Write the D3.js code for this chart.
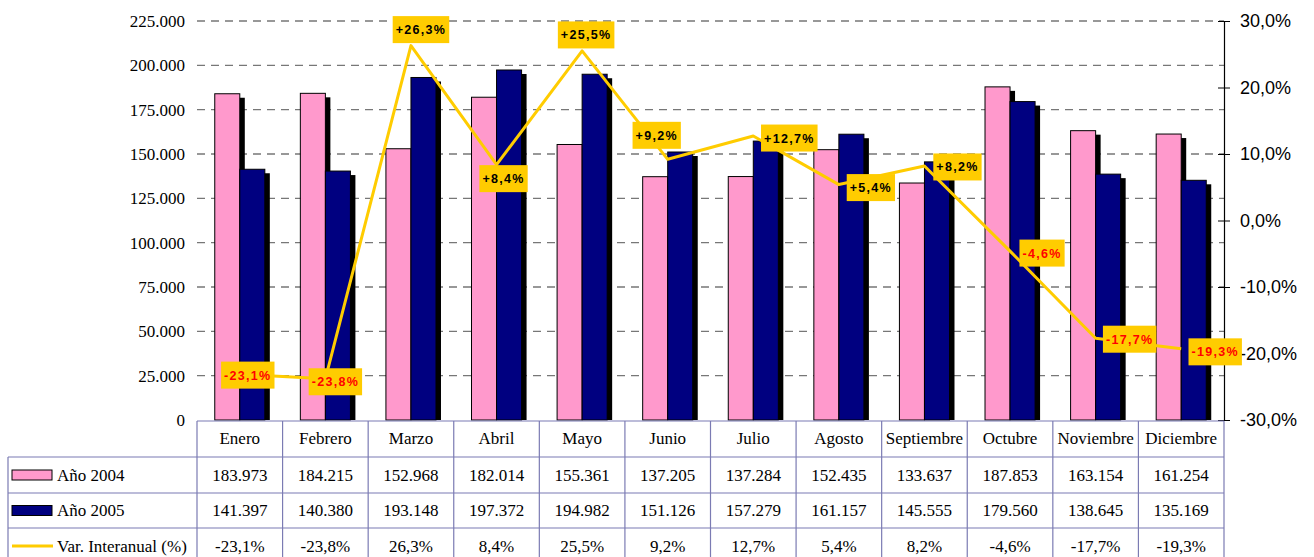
<!DOCTYPE html>
<html>
<head>
<meta charset="utf-8">
<script src="https://cdn.jsdelivr.net/npm/d3@7"></script>
<style>
  body { margin: 0; background: #fff; }
  svg { display: block; }
  .serif { font-family: "Liberation Serif", "Times New Roman", Times, serif; }
  .sans { font-family: "Liberation Sans", Arial, Helvetica, sans-serif; }
</style>
</head>
<body>
<div id="chart"></div>
<script>
// data
var months = ["Enero", "Febrero", "Marzo", "Abril", "Mayo", "Junio", "Julio", "Agosto", "Septiembre", "Octubre", "Noviembre", "Diciembre"];
var year2004 = [183973, 184215, 152968, 182014, 155361, 137205, 137284, 152435, 133637, 187853, 163154, 161254];
var year2005 = [141397, 140380, 193148, 197372, 194982, 151126, 157279, 161157, 145555, 179560, 138645, 135169];
var variation = [-23.1, -23.8, 26.3, 8.4, 25.5, 9.2, 12.7, 5.4, 8.2, -4.6, -17.7, -19.3];
var seriesNames = ["Año 2004", "Año 2005", "Var. Interanual (%)"];
var leftTicks = [0, 25000, 50000, 75000, 100000, 125000, 150000, 175000, 200000, 225000];
var rightTicks = [-30, -20, -10, 0, 10, 20, 30];

// label nudges (layout only, dx/dy of box centre from the point)
var labelNudge = [[8, 1], [10, 3], [10, -16], [7, 14], [4, -16], [-11, -24], [36, 2], [32, 3], [33, 1], [32, 2], [34, 1], [34, 3]];

var width = 1314, height = 557;
var plotL = 197, plotR = 1224, plotT = 21, plotB = 420;
var rowY = [421, 457, 493, 528, 564];
var tableL = 8;

var pink = "#FF99CC", navy = "#000080", yellow = "#FFCC00", border = "#7B7BB3";

var es = d3.formatLocale({decimal: ",", thousands: ".", grouping: [3], currency: ["", " €"], minus: "-"});
var fmtNum = es.format(",d");
var fmtPct = es.format(".1f");

var svg = d3.select("#chart").append("svg")
    .attr("width", width)
    .attr("height", height);

var x = d3.scaleBand().domain(months).range([plotL, plotR]).paddingInner(0.415).paddingOuter(0.2075);
var xs = d3.scaleBand().domain([0, 1]).range([0, x.bandwidth()]);
var y = d3.scaleLinear().domain([0, 225000]).range([plotB, plotT]);
var y2 = d3.scaleLinear().domain([-30, 30]).range([plotB, plotT]);
var step = x.step();

// gridlines
svg.append("g")
  .selectAll("line")
  .data(leftTicks.filter(function(d){ return d > 0; }))
  .enter().append("line")
    .attr("x1", plotL).attr("x2", plotR)
    .attr("y1", function(d){ return y(d); })
    .attr("y2", function(d){ return y(d); })
    .attr("stroke", "#777")
    .attr("stroke-width", 1.3)
    .attr("stroke-dasharray", "8,6");

// left axis labels
var leftAxis = svg.append("g")
    .attr("transform", "translate(" + plotL + ",0)")
    .call(d3.axisLeft(y).tickValues(leftTicks).tickSize(0).tickPadding(12)
      .tickFormat(function(d){ return d === 0 ? "0" : fmtNum(d); }));
leftAxis.attr("font-family", null).attr("font-size", null);
leftAxis.select(".domain").remove();
leftAxis.selectAll("text")
    .attr("class", "serif")
    .style("font-size", "17px")
    .attr("fill", "#000");

// bars
var barData = [];
months.forEach(function(m, i) {
  barData.push({m: m, s: 0, v: year2004[i]});
  barData.push({m: m, s: 1, v: year2005[i]});
});

var bars = svg.append("g");
bars.selectAll("g.bar")
  .data(barData)
  .enter().append("g")
    .attr("class", "bar")
    .each(function(d) {
      var g = d3.select(this);
      var bx = x(d.m) + xs(d.s), bw = xs.bandwidth();
      var by = y(d.v), bh = plotB - by;
      g.append("rect")
        .attr("x", bx + 5).attr("y", by + 4)
        .attr("width", bw).attr("height", bh - 4)
        .attr("fill", "#000");
      g.append("rect")
        .attr("x", bx).attr("y", by)
        .attr("width", bw).attr("height", bh)
        .attr("fill", d.s === 0 ? pink : navy)
        .attr("stroke", "#000")
        .attr("stroke-width", 1);
    });

// right axis
var rightAxis = svg.append("g")
    .attr("transform", "translate(" + plotR + ",0)")
    .call(d3.axisRight(y2).tickValues(rightTicks).tickSizeInner(6).tickSizeOuter(0).tickPadding(10)
      .tickFormat(function(d){ return fmtPct(d) + "%"; }));
rightAxis.attr("font-family", null).attr("font-size", null);
rightAxis.select(".domain").attr("stroke", "#000").attr("stroke-width", 1.2);
rightAxis.selectAll(".tick line").attr("x1", -6).attr("stroke", "#000");
rightAxis.selectAll("text")
    .attr("class", "sans")
    .style("font-size", "18px")
    .attr("fill", "#000");

// variation line
var pts = variation.map(function(v, i) {
  return {m: months[i], v: v, i: i, px: x(months[i]) + x.bandwidth() / 2, py: y2(v)};
});

svg.append("path")
    .datum(pts)
    .attr("fill", "none")
    .attr("stroke", yellow)
    .attr("stroke-width", 3)
    .attr("stroke-linejoin", "round")
    .attr("d", d3.line().x(function(d){ return d.px; }).y(function(d){ return d.py; }));

// data labels
var lab = svg.append("g").selectAll("g")
  .data(pts)
  .enter().append("g")
    .attr("transform", function(d) {
      return "translate(" + (d.px + labelNudge[d.i][0]) + "," + (d.py + labelNudge[d.i][1]) + ")";
    });

lab.append("text")
    .attr("class", "sans")
    .attr("text-anchor", "middle")
    .attr("dy", "0.36em")
    .style("font-weight", "bold")
    .style("font-size", "12.5px")
    .style("letter-spacing", "1.3px")
    .attr("fill", function(d){ return d.v < 0 ? "#FF0000" : "#000"; })
    .text(function(d){ return (d.v > 0 ? "+" : "") + fmtPct(d.v) + "%"; });

lab.each(function() {
  var g = d3.select(this);
  var bb = g.select("text").node().getBBox();
  g.insert("rect", "text")
    .attr("x", bb.x - 3)
    .attr("y", -13.5)
    .attr("width", bb.width + 6)
    .attr("height", 27)
    .attr("fill", yellow);
});

// data table
var table = svg.append("g").attr("stroke", border).attr("stroke-width", 1.2);
table.append("line").attr("x1", plotL).attr("x2", plotR).attr("y1", rowY[0]).attr("y2", rowY[0]);
rowY.slice(1).forEach(function(ry) {
  table.append("line").attr("x1", tableL).attr("x2", plotR).attr("y1", ry).attr("y2", ry);
});
table.append("line").attr("x1", tableL).attr("x2", tableL).attr("y1", rowY[1]).attr("y2", rowY[4]);
d3.range(months.length + 1).forEach(function(k) {
  var vx = plotL + k * step;
  table.append("line").attr("x1", vx).attr("x2", vx).attr("y1", rowY[0]).attr("y2", rowY[4]);
});

var rows = [
  months,
  year2004.map(fmtNum),
  year2005.map(fmtNum),
  variation.map(function(v){ return fmtPct(v) + "%"; })
];

rows.forEach(function(r, ri) {
  svg.append("g").selectAll("text")
    .data(r)
    .enter().append("text")
      .attr("class", "serif")
      .attr("x", function(d, i){ return plotL + (i + 0.5) * step; })
      .attr("y", (rowY[ri] + rowY[ri + 1]) / 2)
      .attr("dy", ri === 0 ? "0.28em" : "0.33em")
      .attr("text-anchor", "middle")
      .style("font-size", "17px")
      .attr("fill", "#000")
      .text(function(d){ return d; });
});

// legend keys in the table
var keys = svg.append("g");
seriesNames.forEach(function(name, k) {
  var cy = (rowY[k + 1] + rowY[k + 2]) / 2;
  if (k < 2) {
    keys.append("rect")
      .attr("x", 12).attr("y", cy - 5)
      .attr("width", 40).attr("height", 10)
      .attr("fill", k === 0 ? pink : navy)
      .attr("stroke", "#000")
      .attr("stroke-width", 1);
  } else {
    keys.append("line")
      .attr("x1", 12).attr("x2", 53)
      .attr("y1", cy).attr("y2", cy)
      .attr("stroke", yellow)
      .attr("stroke-width", 3);
  }
  keys.append("text")
    .attr("class", "serif")
    .attr("x", 57)
    .attr("y", cy)
    .attr("dy", "0.33em")
    .style("font-size", "17px")
    .attr("fill", "#000")
    .text(name);
});
</script>
</body>
</html>
